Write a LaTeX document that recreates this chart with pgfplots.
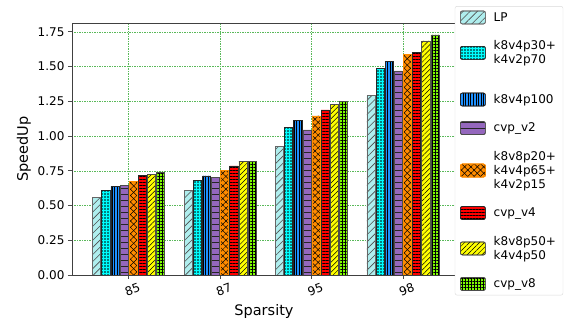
\documentclass[border=0pt]{standalone}
\usepackage{pgfplots}
\pgfplotsset{compat=1.18}
\usepackage{pgfplotstable}
\usepackage{fontspec}
\setmainfont{DejaVu Sans}
\usetikzlibrary{patterns,patterns.meta}

\definecolor{cLP}{HTML}{AFEEEE}
\definecolor{cCyan}{HTML}{00FFFF}
\definecolor{cBlue}{HTML}{1E90FF}
\definecolor{cPurple}{HTML}{9467BD}
\definecolor{cOrange}{HTML}{FF8C00}
\definecolor{cRed}{HTML}{FF0000}
\definecolor{cYellow}{HTML}{FFFF00}
\definecolor{cGreen}{HTML}{7FFF00}
\definecolor{gridgreen}{RGB}{90,185,90}

\pgfplotsset{
  boximg/.style={legend image code/.code={\draw[##1,/tikz/.cd] (0pt,-6.5pt) rectangle (25pt,6.5pt);}},
  tallimg/.style={legend image code/.code={\draw[##1,/tikz/.cd] (0pt,-6.5pt) rectangle (25pt,6.5pt); \path (0pt,-25pt);}},
}

\pgfplotstableread{
x LP A B C D E F G
0 0.559 0.607 0.638 0.643 0.674 0.716 0.725 0.742
1 0.610 0.679 0.713 0.703 0.754 0.785 0.816 0.818
2 0.924 1.063 1.112 1.044 1.145 1.188 1.229 1.248
3 1.291 1.485 1.536 1.469 1.586 1.603 1.685 1.728
}\data

\begin{document}
\begin{tikzpicture}
\begin{axis}[
  scale only axis,
  width=384pt, height=252pt,
  ybar,
  bar width=8.2pt,
  boximg,
  xmin=-0.62, xmax=3.58,
  ymin=0, ymax=1.814,
  xtick={0,1,2,3},
  xticklabels={85,87,95,98},
  ytick={0,0.25,0.5,0.75,1,1.25,1.5,1.75},
  yticklabel style={/pgf/number format/.cd, fixed, fixed zerofill, precision=2},
  /pgf/number format/assume math mode=true,
  xticklabel style={rotate=20, anchor=north, yshift=-3pt},
  tick label style={font=\fontsize{12}{14}\selectfont},
  label style={font=\fontsize{14.5}{17}\selectfont},
  xlabel={Sparsity},
  ylabel={SpeedUp},
  xtick pos=bottom, ytick pos=left,
  tick align=outside,
  major tick length=4pt,
  tick style={black!70, line width=0.8pt},
  axis line style={black!75, line width=0.8pt},
  grid=major,
  grid style={dash pattern=on 1.5pt off 1pt, gridgreen, line width=0.5pt},
  legend cell align=left,
  legend style={at={(0.997,1.067)}, anchor=north west, draw=black!15, rounded corners=2pt,
    font=\fontsize{12}{14}\selectfont, cells={align=left}, row sep=14pt, column sep=6pt,
    inner xsep=5pt, inner ysep=4pt},
]
\addplot[bar shift=-32pt, fill=cLP, draw=black!60, line width=0.7pt,
  postaction={pattern color=black!70, pattern={Lines[angle=45,distance=5pt,line width=0.6pt]}}]
  table[x=x,y=LP]{\data};
\addlegendentry{LP}
\addplot[bar shift=-22.86pt, fill=cCyan, draw=black!85, line width=0.7pt, tallimg,
  postaction={pattern color=black, pattern={Dots[distance=3pt,radius=0.8pt]}}]
  table[x=x,y=A]{\data};
\addlegendentry{k8v4p30+\\k4v2p70}
\addplot[bar shift=-13.71pt, fill=cBlue, draw=black!85, line width=0.7pt,
  postaction={pattern color=black, pattern={Lines[angle=90,distance=2.6pt,line width=0.5pt]}}]
  table[x=x,y=B]{\data};
\addlegendentry{k8v4p100}
\addplot[bar shift=-4.57pt, fill=cPurple, draw=black!70, line width=0.7pt,
  postaction={pattern color=black!85, pattern={Lines[angle=0,distance=6pt,line width=0.6pt]}}]
  table[x=x,y=C]{\data};
\addlegendentry{cvp\_v2}
\addplot[bar shift=4.57pt, fill=cOrange, draw=cOrange, line width=0.7pt,
  postaction={pattern color=black, pattern={Lines[angle=45,distance=4.5pt,line width=0.5pt]}},
  postaction={pattern color=black, pattern={Lines[angle=-45,distance=4.5pt,line width=0.5pt]}}]
  table[x=x,y=D]{\data};
\addlegendentry{k8v8p20+\\k4v4p65+\\k4v2p15}
\addplot[bar shift=13.71pt, fill=cRed, draw=black!85, line width=0.7pt,
  postaction={pattern color=black, pattern={Lines[angle=0,distance=3pt,line width=0.5pt]}}]
  table[x=x,y=E]{\data};
\addlegendentry{cvp\_v4}
\addplot[bar shift=22.86pt, fill=cYellow, draw=black!70, line width=0.7pt,
  postaction={pattern color=black, pattern={Lines[angle=45,distance=3.5pt,line width=0.5pt]}}]
  table[x=x,y=F]{\data};
\addlegendentry{k8v8p50+\\k4v4p50}
\addplot[bar shift=32pt, fill=cGreen, draw=black!70, line width=0.7pt,
  postaction={pattern color=black, pattern={Hatch[distance=3pt,line width=0.5pt]}}]
  table[x=x,y=G]{\data};
\addlegendentry{cvp\_v8}
\end{axis}
\path (current axis.south west) ++(-72pt,-51pt) rectangle ++(571pt,326pt);
\end{tikzpicture}
\end{document}
